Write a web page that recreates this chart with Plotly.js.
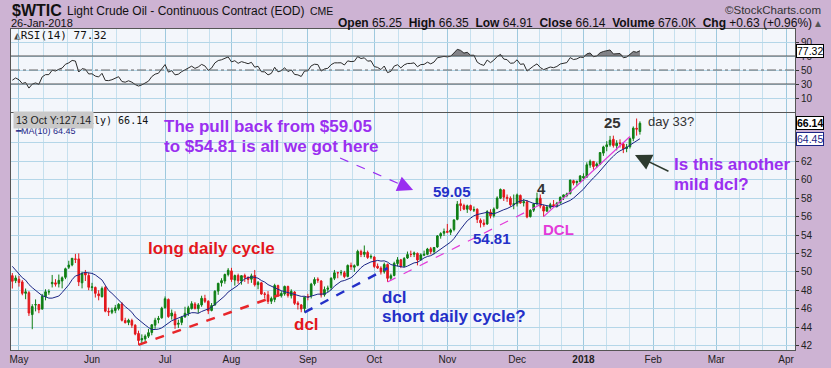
<!DOCTYPE html>
<html><head><meta charset="utf-8">
<script src="https://cdn.plot.ly/plotly-3.0.1.min.js"></script>
<style>html,body{margin:0;padding:0;background:#cdb3d3;}#chart{width:831px;height:368px;}</style>
</head><body><div id="chart"></div>
<script>
// ---------- DATA ----------
// closes before the first plotted bar (used only to warm up MA(10) / RSI(14))
const priorCloses = [
 53.83,52.61,53.33,53.20,53.14,50.28,49.28,48.49,48.40,47.72,48.86,48.75,48.78,48.22,47.34,47.04,47.70,47.97,47.73,48.37,49.51,50.35,50.60,
 50.24,51.03,51.15,51.70,52.24,53.08,53.40,53.11,53.18,52.65,52.41,50.44,50.27,49.62,49.23,49.56,49.62
];
const dates = [
 '2017-04-27','2017-04-28',
 '2017-05-01','2017-05-02','2017-05-03','2017-05-04','2017-05-05','2017-05-08','2017-05-09','2017-05-10','2017-05-11','2017-05-12','2017-05-15','2017-05-16','2017-05-17','2017-05-18','2017-05-19','2017-05-22','2017-05-23','2017-05-24','2017-05-25','2017-05-26','2017-05-30','2017-05-31',
 '2017-06-01','2017-06-02','2017-06-05','2017-06-06','2017-06-07','2017-06-08','2017-06-09','2017-06-12','2017-06-13','2017-06-14','2017-06-15','2017-06-16','2017-06-19','2017-06-20','2017-06-21','2017-06-22','2017-06-23','2017-06-26','2017-06-27','2017-06-28','2017-06-29','2017-06-30',
 '2017-07-03','2017-07-05','2017-07-06','2017-07-07','2017-07-10','2017-07-11','2017-07-12','2017-07-13','2017-07-14','2017-07-17','2017-07-18','2017-07-19','2017-07-20','2017-07-21','2017-07-24','2017-07-25','2017-07-26','2017-07-27','2017-07-28','2017-07-31',
 '2017-08-01','2017-08-02','2017-08-03','2017-08-04','2017-08-07','2017-08-08','2017-08-09','2017-08-10','2017-08-11','2017-08-14','2017-08-15','2017-08-16','2017-08-17','2017-08-18','2017-08-21','2017-08-22','2017-08-23','2017-08-24','2017-08-25','2017-08-28','2017-08-29','2017-08-30','2017-08-31',
 '2017-09-01','2017-09-05','2017-09-06','2017-09-07','2017-09-08','2017-09-11','2017-09-12','2017-09-13','2017-09-14','2017-09-15','2017-09-18','2017-09-19','2017-09-20','2017-09-21','2017-09-22','2017-09-25','2017-09-26','2017-09-27','2017-09-28','2017-09-29',
 '2017-10-02','2017-10-03','2017-10-04','2017-10-05','2017-10-06','2017-10-09','2017-10-10','2017-10-11','2017-10-12','2017-10-13','2017-10-16','2017-10-17','2017-10-18','2017-10-19','2017-10-20','2017-10-23','2017-10-24','2017-10-25','2017-10-26','2017-10-27','2017-10-30','2017-10-31',
 '2017-11-01','2017-11-02','2017-11-03','2017-11-06','2017-11-07','2017-11-08','2017-11-09','2017-11-10','2017-11-13','2017-11-14','2017-11-15','2017-11-16','2017-11-17','2017-11-20','2017-11-21','2017-11-22','2017-11-24','2017-11-27','2017-11-28','2017-11-29','2017-11-30',
 '2017-12-01','2017-12-04','2017-12-05','2017-12-06','2017-12-07','2017-12-08','2017-12-11','2017-12-12','2017-12-13','2017-12-14','2017-12-15','2017-12-18','2017-12-19','2017-12-20','2017-12-21','2017-12-22','2017-12-26','2017-12-27','2017-12-28','2017-12-29',
 '2018-01-02','2018-01-03','2018-01-04','2018-01-05','2018-01-08','2018-01-09','2018-01-10','2018-01-11','2018-01-12','2018-01-16','2018-01-17','2018-01-18','2018-01-19','2018-01-22','2018-01-23','2018-01-24','2018-01-25','2018-01-26'
];
const opens = [
 49.58,49.04,
 49.19,48.90,47.66,47.73,45.35,46.40,46.45,45.95,47.30,47.80,48.70,48.80,48.70,49.00,49.40,50.50,50.75,51.40,51.40,48.80,49.90,49.60,
 48.30,48.30,47.60,47.30,48.30,45.70,45.60,45.80,46.00,46.50,44.70,44.50,44.70,44.20,43.30,42.60,42.70,43.00,43.40,44.20,44.80,45.00,
 46.10,47.00,45.20,45.40,44.30,44.50,45.10,45.50,46.00,46.50,46.00,46.40,47.10,46.80,45.80,46.40,47.90,48.80,49.00,49.70,
 50.10,49.10,49.60,49.00,49.60,49.40,49.20,49.60,48.60,48.80,47.60,47.50,46.80,47.00,48.50,47.40,47.60,48.40,47.40,47.80,46.60,46.40,46.00,
 47.30,47.40,48.70,49.20,49.00,47.50,48.10,48.30,49.30,49.90,49.90,49.90,49.50,50.70,50.50,50.70,52.20,51.90,52.10,51.60,
 51.60,50.60,50.40,50.00,50.80,49.30,49.60,50.90,51.30,50.60,51.50,51.90,51.90,52.00,51.30,51.80,51.90,52.50,52.20,52.70,53.90,54.20,
 54.40,54.30,54.60,55.70,57.40,57.20,56.80,57.20,56.70,56.80,55.60,55.30,55.20,56.50,56.10,56.90,58.00,58.90,58.10,58.00,57.30,
 57.40,58.30,57.50,57.60,56.00,56.70,57.40,58.00,57.10,56.60,57.00,57.30,57.20,57.50,58.10,58.30,58.50,59.90,59.70,59.80,
 60.20,60.30,61.60,62.00,61.50,61.70,62.90,63.60,63.80,64.40,63.70,64.00,63.90,63.40,63.60,64.50,65.60,65.25
];
const highs = [
 49.86,49.61,
 49.54,49.10,48.18,47.91,46.48,47.00,46.50,47.60,48.10,48.10,49.66,49.20,49.70,49.50,50.45,51.20,51.50,51.95,52.00,50.00,50.20,49.90,
 48.80,48.40,48.00,48.40,48.50,46.10,46.10,46.40,46.60,46.70,45.00,44.90,44.90,44.30,43.60,43.20,43.20,43.80,44.30,45.00,45.20,46.20,
 47.32,47.10,45.90,45.70,44.80,45.20,46.20,46.30,46.80,46.70,46.60,47.40,47.50,46.90,46.60,48.00,48.80,49.30,49.80,50.40,
 50.43,49.70,49.80,49.60,49.80,49.50,49.80,50.20,49.00,48.90,47.80,47.90,47.30,48.70,48.60,47.90,48.50,48.50,48.10,47.90,46.80,46.50,47.30,
 47.60,48.80,49.40,49.40,49.10,48.40,48.50,49.40,50.20,50.00,50.20,50.10,50.80,51.00,50.80,52.40,52.40,52.86,52.30,51.90,
 51.70,50.90,50.60,51.00,50.90,49.80,51.10,51.60,51.40,51.60,52.20,52.30,52.20,52.10,52.00,52.30,52.60,52.70,52.70,54.00,54.30,54.70,
 55.20,54.70,55.70,57.69,57.90,57.40,57.30,57.30,57.10,56.90,55.80,55.70,56.70,56.80,57.00,58.20,59.05,59.00,58.40,58.20,58.40,
 58.50,58.40,57.90,57.80,56.80,57.50,58.60,58.40,57.30,57.20,57.50,57.80,57.60,58.20,58.40,58.60,60.00,60.00,59.90,60.50,
 60.70,61.90,62.20,62.00,61.90,63.00,63.70,64.20,64.77,64.80,64.30,64.40,64.10,63.90,64.60,65.80,66.66,66.35
];
const lows = [
 48.18,48.77,
 48.39,47.45,47.02,45.20,43.76,45.70,45.50,45.90,46.90,47.50,48.30,48.40,48.30,48.20,49.20,50.30,50.60,50.95,48.45,48.20,49.00,48.00,
 47.90,47.20,46.90,47.20,45.60,45.20,45.40,45.50,45.80,44.60,44.40,44.20,43.90,43.10,42.05,42.20,42.30,42.80,43.10,43.80,44.40,44.90,
 46.00,45.00,44.80,43.80,43.90,44.20,45.00,45.20,45.90,45.90,45.50,46.20,46.60,45.40,45.70,46.30,47.50,48.40,48.70,49.50,
 48.90,48.50,48.70,48.60,48.90,48.70,48.80,48.40,48.10,47.50,47.10,46.50,46.50,46.70,47.30,47.20,47.40,47.20,47.10,46.40,45.90,45.60,45.58,
 46.90,47.10,48.50,48.80,47.20,47.30,47.80,48.00,49.10,49.30,49.60,49.30,49.40,50.20,50.00,50.60,51.60,51.60,51.40,51.40,
 50.40,50.30,49.70,49.80,48.90,49.10,49.50,50.60,50.40,50.50,51.40,51.60,51.60,50.70,51.20,51.70,51.80,51.90,51.90,52.60,53.60,53.90,
 54.20,54.00,54.40,55.60,56.60,56.70,56.40,56.60,56.50,55.30,54.81,54.90,55.10,55.80,55.90,56.80,57.90,57.70,57.60,57.10,56.80,
 57.10,57.40,57.10,55.82,55.90,56.50,57.20,56.90,56.00,56.50,56.80,57.00,57.00,57.40,57.80,58.10,58.40,59.40,59.30,59.80,
 59.90,60.20,61.30,61.10,61.30,61.60,62.60,63.10,63.60,63.50,63.20,63.50,62.90,63.00,63.40,64.20,64.80,64.91
];
const closes = [
 48.97,49.33,
 48.84,47.66,47.82,45.52,46.22,46.43,45.88,47.33,47.83,47.84,48.85,48.66,49.07,49.35,50.33,50.73,51.47,51.36,48.90,49.80,49.66,48.32,
 48.36,47.66,47.40,48.19,45.72,45.64,45.83,46.08,46.46,44.73,44.46,44.74,44.20,43.23,42.53,42.74,43.01,43.38,44.24,44.74,44.93,46.04,
 47.07,45.13,45.52,44.23,44.40,45.04,45.49,46.08,46.54,46.02,46.40,47.12,46.79,45.77,46.34,47.89,48.75,49.04,49.71,50.17,
 49.16,49.59,49.03,49.58,49.39,49.17,49.56,48.59,48.82,47.59,47.55,46.78,47.09,48.51,47.37,47.64,48.41,47.43,47.87,46.57,46.44,45.96,47.23,
 47.29,48.66,49.16,49.09,47.48,48.07,48.23,49.30,49.89,49.89,49.91,49.48,50.69,50.55,50.66,52.22,51.88,52.14,51.56,51.67,
 50.58,50.42,49.98,50.79,49.29,49.58,50.92,51.30,50.60,51.45,51.87,51.88,52.04,51.29,51.84,51.90,52.47,52.18,52.64,53.90,54.15,54.38,
 54.30,54.54,55.64,57.35,57.20,56.81,57.17,56.74,56.76,55.70,55.33,55.14,56.55,56.09,56.83,58.02,58.95,58.11,57.99,57.30,57.40,
 58.36,57.47,57.62,55.96,56.69,57.36,57.99,57.14,56.60,57.04,57.30,57.16,57.46,58.09,58.36,58.47,59.97,59.64,59.84,60.42,
 60.37,61.63,62.01,61.44,61.73,62.96,63.57,63.80,64.30,63.73,63.97,63.95,63.37,63.57,64.47,65.61,65.51,66.14
];
// month tick labels and their trading-day positions (0 = 1 May 2017)
const monthLabels = ['May','Jun','Jul','Aug','Sep','Oct','Nov','Dec','<b>2018</b>','Feb','Mar','Apr'];
const monthTickPos = [0,22,44,64,87,107,129,150,170,191,210,231];
const priceTicks = [42,44,46,48,50,52,54,56,58,60,62,64];
const rsiTicks = [10,30,50,70,90];

// ---------- INDICATORS (from the closes) ----------
const x0 = dates.indexOf('2017-05-01');
const xs = dates.map((d,i)=>i - x0);
const allC = priorCloses.concat(closes);
const P = priorCloses.length;
const ma10 = closes.map((c,i)=>{let s=0;for(let k=P+i-9;k<=P+i;k++)s+=allC[k];return s/10;});
const rsiAll = new Array(allC.length).fill(null);
let ag=0, al=0;
for(let k=1;k<=14;k++){const d=allC[k]-allC[k-1]; if(d>0)ag+=d; else al-=d;}
ag/=14; al/=14; rsiAll[14]=100-100/(1+ag/al);
for(let k=15;k<allC.length;k++){const d=allC[k]-allC[k-1];ag=(ag*13+Math.max(d,0))/14;al=(al*13+Math.max(-d,0))/14;rsiAll[k]=al===0?100:100-100/(1+ag/al);}
const rsi = rsiAll.slice(P);

// ---------- GEOMETRY HELPERS ----------
const L=11, R=795, T=29, B=350;
const px = v => (v-L)/(R-L);
const py = v => (B-v)/(B-T);
const minorPos=[];
for(let i=0;i<monthTickPos.length-1;i++){const s=monthTickPos[i],e=monthTickPos[i+1];minorPos.push(s+(e-s)/3,s+2*(e-s)/3);}

const GREEN='#0f7f14', RED='#e3171c', PURPLE='#9a2ff0', BLUE='#2430c8', MAG='#e33ad8';

const traces = [
 {type:'candlestick', x:xs, open:opens, high:highs, low:lows, close:closes, xaxis:'x', yaxis:'y',
  increasing:{line:{color:GREEN,width:1},fillcolor:GREEN}, decreasing:{line:{color:RED,width:1},fillcolor:RED},
  whiskerwidth:0, hoverinfo:'skip'},
 {type:'scatter', mode:'lines', x:xs, y:ma10, xaxis:'x', yaxis:'y', line:{color:'#1b2585',width:1}, hoverinfo:'skip'},
 {type:'scatter', mode:'lines', x:xs, y:xs.map(()=>70), xaxis:'x2', yaxis:'y2', line:{width:0,color:'rgba(0,0,0,0)'}, hoverinfo:'skip'},
 {type:'scatter', mode:'lines', x:xs, y:rsi.map(v=>Math.max(v,70)), xaxis:'x2', yaxis:'y2', fill:'tonexty', fillcolor:'rgba(110,110,115,0.85)', line:{width:0,color:'rgba(0,0,0,0)'}, hoverinfo:'skip'},
 {type:'scatter', mode:'lines', x:xs, y:rsi, xaxis:'x2', yaxis:'y2', line:{color:'#2a2a2a',width:1}, hoverinfo:'skip'}
];

function txt(text, x, y, size, color, opts){
  return Object.assign({text:text, xref:'paper', yref:'paper', x:px(x), y:py(y), xanchor:'left', yanchor:'middle',
    showarrow:false, font:{size:size, color:color, family:'Liberation Sans, Arial, sans-serif'}, borderpad:0}, opts||{});
}
const annotations = [
 // header
 txt('<b>$WTIC</b>', 11, 10, 16, '#111'),
 txt('Light Crude Oil - Continuous Contract (EOD)', 66, 10.5, 12, '#111'),
 txt('CME', 309, 11, 10.5, '#111'),
 txt('26-Jan-2018', 10, 23, 11, '#111'),
 txt('©StockCharts.com', 822, 10, 11.5, '#333', {xanchor:'right'}),
 txt('<b>Open</b> 65.25  <b>High</b> 66.35  <b>Low</b> 64.91  <b>Close</b> 66.14  <b>Volume</b> 676.0K  <b>Chg</b> +0.63 (+0.96%) <span style="color:#555">▴</span>', 822, 23, 12, '#111', {xanchor:'right'}),
 // RSI label
 txt('<span style="color:#444">◭</span>RSI(14) 77.32', 13, 35, 11, '#111', {font:{size:11,color:'#111',family:'DejaVu Sans Mono, monospace'}}),
 // main legend
 txt('<span style="color:#1b2585">━</span>MA(10) 64.45', 14, 131, 9, '#1b2585'),
 txt('ily) 66.14', 87, 120, 10, '#111', {font:{size:10,color:'#111',family:'DejaVu Sans Mono, monospace'}}),
 txt('13 Oct Y:127.14', 13, 120.5, 10.5, '#222', {bgcolor:'#c9c9c9', borderpad:2}),
 // commentary
 txt('<b>The pull back from $59.05</b>', 163, 126, 17, PURPLE),
 txt('<b>to $54.81 is all we got here</b>', 163, 146, 17, PURPLE),
 txt('<b>59.05</b>', 432, 192, 15, BLUE),
 txt('<b>54.81</b>', 472, 238, 15, BLUE),
 txt('<b>4</b>', 536, 188, 15, '#333'),
 txt('<b>25</b>', 603, 122, 15, '#333'),
 txt('day 33?', 647, 121, 13, '#333'),
 txt('<b>Is this another</b>', 673, 164, 17, PURPLE),
 txt('<b>mild dcl?</b>', 673, 184, 17, PURPLE),
 txt('<b>DCL</b>', 542, 229, 15, MAG),
 txt('<b>long daily cycle</b>', 147, 248, 17, RED),
 txt('<b>dcl</b>', 293, 324, 17, RED),
 txt('<b>dcl</b>', 381, 297, 17, BLUE),
 txt('<b>short daily cycle?</b>', 381, 316, 17, BLUE),
 // arrows
 {xref:'x', yref:'y', x:118.7, y:58.9, ax:-12, ay:-5, text:'', showarrow:true, arrowhead:2, arrowsize:2.6, arrowwidth:1.2, arrowcolor:PURPLE, standoff:0},
 {xref:'x', yref:'y', x:185.5, y:62.7, ax:35, ay:17, text:'', showarrow:true, arrowhead:2, arrowsize:2.2, arrowwidth:1.5, arrowcolor:'#2d3a2e', standoff:0},
 // price tags
 {xref:'paper', yref:'y', x:1, xshift:1, y:66.14, xanchor:'left', yanchor:'middle', text:'<b>66.14</b>', showarrow:false, font:{size:10.5,color:'#000'}, bgcolor:'#fff', bordercolor:'#000', borderwidth:1, borderpad:0},
 {xref:'paper', yref:'y', x:1, xshift:1, y:64.45, xanchor:'left', yanchor:'middle', text:'64.45', showarrow:false, font:{size:10.5,color:'#1b2585'}, bgcolor:'#fff', bordercolor:'#1b2585', borderwidth:1, borderpad:0},
 {xref:'paper', yref:'y2', x:1, xshift:1, y:77.32, xanchor:'left', yanchor:'middle', text:'77.32', showarrow:false, font:{size:10.5,color:'#000'}, bgcolor:'#fff', bordercolor:'#000', borderwidth:1, borderpad:0}
];

const shapes = [
 {type:'line', xref:'paper', x0:0, x1:1, yref:'y2', y0:70, y1:70, line:{color:'#555',width:1}},
 {type:'line', xref:'paper', x0:0, x1:1, yref:'y2', y0:30, y1:30, line:{color:'#555',width:1}},
 {type:'line', xref:'paper', x0:0, x1:1, yref:'y2', y0:50, y1:50, line:{color:'#666',width:1,dash:'dashdot'}},
 // drawn trend lines
 {type:'line', xref:'x', yref:'y', x0:36, y0:42.05, x1:78.5, y1:47.5, line:{color:'#e8262a',width:2.5,dash:'dash'}},
 {type:'line', xref:'x', yref:'y', x0:86, y0:45.58, x1:111, y1:50.4, line:{color:'#2430c8',width:2.5,dash:'dash'}},
 {type:'line', xref:'x', yref:'y', x0:111, y0:48.9, x1:157, y1:57.3, line:{color:MAG,width:1.2,dash:'dash'}},
 {type:'line', xref:'x', yref:'y', x0:158, y0:56.0, x1:184, y1:64.7, line:{color:MAG,width:1.2}},
 {type:'line', xref:'x', yref:'y', x0:96.7, y0:62.37, x1:116.5, y1:59.25, line:{color:PURPLE,width:1.2,dash:'dash'}}
];

const gridC='#b4d6e8';
const xcommon = {range:[-2.4,233.7], tickmode:'array', tickvals:monthTickPos, ticktext:monthLabels, showgrid:true, gridcolor:'#9ec9de', gridwidth:1,
  minor:{tickmode:'array', tickvals:minorPos, showgrid:true, gridcolor:'#c6e0ee', ticks:''},
  ticks:'', showline:true, mirror:true, linecolor:'#555', zeroline:false, fixedrange:true};
const layout = {
  width:831, height:368, paper_bgcolor:'#cdb3d3', plot_bgcolor:'#f3f6fb', showlegend:false,
  margin:{l:L, r:831-R, t:T, b:368-B},
  font:{family:'Liberation Sans, Arial, sans-serif', size:10, color:'#222'},
  xaxis: Object.assign({}, xcommon, {anchor:'y', rangeslider:{visible:false}, tickfont:{size:10,color:'#222'}}),
  xaxis2: Object.assign({}, xcommon, {anchor:'y2', matches:'x', showticklabels:false}),
  yaxis:{domain:[0,(B-113)/(B-T)], side:'right', range:[41.5,67.26], tickmode:'array', tickvals:priceTicks, ticks:'outside', ticklen:3, tickcolor:'#333',
    gridcolor:gridC, showline:true, mirror:true, linecolor:'#555', zeroline:false, fixedrange:true, tickfont:{size:10,color:'#222'}},
  yaxis2:{domain:[(B-112)/(B-T),1], side:'right', range:[-10,108.6], tickmode:'array', tickvals:rsiTicks, ticks:'outside', ticklen:3, tickcolor:'#333',
    gridcolor:gridC, showline:true, mirror:true, linecolor:'#555', zeroline:false, fixedrange:true, tickfont:{size:10,color:'#222'}},
  annotations:annotations, shapes:shapes
};
Plotly.newPlot('chart', traces, layout, {staticPlot:true, displayModeBar:false});
</script></body></html>
